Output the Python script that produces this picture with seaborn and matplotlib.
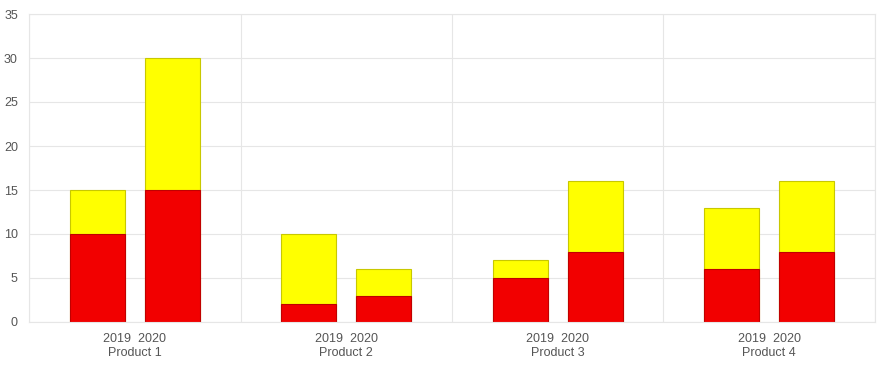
import matplotlib
matplotlib.use("Agg")
import matplotlib.pyplot as plt
import pandas as pd
import seaborn as sns

# data
products = ["Product 1", "Product 2", "Product 3", "Product 4"]
years = ["2019", "2020"]
red_2019 = [10, 2, 5, 6]
yellow_2019 = [5, 8, 2, 7]
red_2020 = [15, 3, 8, 8]
yellow_2020 = [15, 3, 8, 8]
tick_labels = ["2019  2020\n" + p for p in products]

rows = []
for i, p in enumerate(products):
    rows.append({"product": p, "year": "2019", "red": red_2019[i], "yellow": yellow_2019[i]})
    rows.append({"product": p, "year": "2020", "red": red_2020[i], "yellow": yellow_2020[i]})
df = pd.DataFrame(rows)
df["total"] = df["red"] + df["yellow"]

sns.set_style("white")
plt.rcParams["font.family"] = ["Liberation Sans", "DejaVu Sans"]

grid_col = "#e6e6e6"
text_col = "#555555"

fig = plt.figure(figsize=(8.79, 3.69), dpi=100)
ax = fig.add_axes([29 / 879, 1 - 322 / 369, 846 / 879, 308 / 369])

# stacked look: full-height yellow bars, then red bars drawn over them
sns.barplot(data=df, x="product", y="total", hue="year", order=products,
            hue_order=years, palette=["#ffff00", "#ffff00"], saturation=1,
            width=0.71, gap=0.27, edgecolor="#c8c800", linewidth=0.8,
            legend=False, ax=ax)
sns.barplot(data=df, x="product", y="red", hue="year", order=products,
            hue_order=years, palette=["#f20000", "#f20000"], saturation=1,
            width=0.71, gap=0.27, edgecolor="#c00000", linewidth=0.8,
            legend=False, ax=ax)

ax.set_xlim(-0.5, 3.5)
ax.set_ylim(0, 35)
ax.set_yticks(range(0, 36, 5))
ax.set_xticks(range(len(products)))
ax.set_xticklabels(tick_labels)
ax.set_xticks([-0.5, 0.5, 1.5, 2.5, 3.5], minor=True)
ax.set_xlabel("")
ax.set_ylabel("")

ax.set_axisbelow(True)
ax.grid(axis="y", which="major", color=grid_col, linewidth=0.8)
ax.grid(axis="x", which="minor", color=grid_col, linewidth=0.8)
ax.tick_params(axis="x", which="major", length=0, colors=text_col, labelsize=9, pad=8)
ax.tick_params(axis="x", which="minor", length=5, color=grid_col, width=0.8)
ax.tick_params(axis="y", length=2, color=grid_col, colors=text_col, labelsize=9, pad=6)
for lbl in ax.get_xticklabels():
    lbl.set_linespacing(1.25)
for s in ax.spines.values():
    s.set_color(grid_col)
    s.set_linewidth(0.8)

fig.savefig("out.png", dpi=100)
